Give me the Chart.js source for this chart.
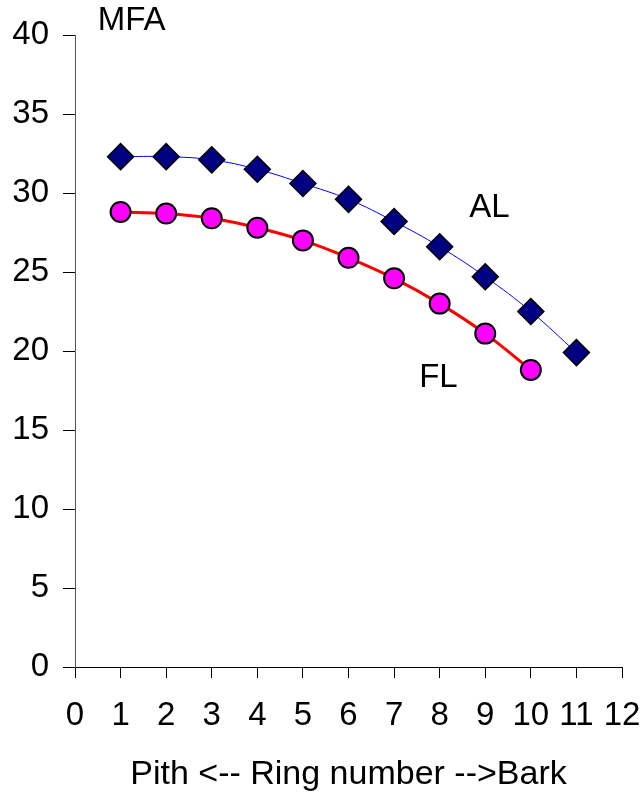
<!DOCTYPE html>
<html>
<head>
<meta charset="utf-8">
<script src="https://cdn.jsdelivr.net/npm/chart.js@4"></script>
<style>
  html, body { margin: 0; padding: 0; background: #fff; }
  #wrap { width: 641px; height: 795px; }
</style>
</head>
<body>
<div id="wrap"><canvas id="chart" width="641" height="795"></canvas></div>
<script>
// -----------------------------
// Data
// -----------------------------
const rings = [1, 2, 3, 4, 5, 6, 7, 8, 9, 10, 11];
const alValues = [32.3, 32.3, 32.1, 31.5, 30.6, 29.6, 28.2, 26.6, 24.7, 22.5, 19.9];
const flValues = [28.8, 28.7, 28.4, 27.8, 27.0, 25.9, 24.6, 23.0, 21.1, 18.8];
const xTicks = [0, 1, 2, 3, 4, 5, 6, 7, 8, 9, 10, 11, 12];
const yTicks = [0, 5, 10, 15, 20, 25, 30, 35, 40];

const FONT = "'Liberation Sans', Arial, sans-serif";

// text labels placed in data coordinates
const textLabels = [
    { text: "MFA", x: 0.5, y: 40.9 },
    { text: "AL", x: 8.65, y: 29.05 },
    { text: "FL", x: 7.55, y: 18.3 }
];

const labelPlugin = {
    id: "labels",
    afterDatasetsDraw(chart) {
        const ctx = chart.ctx;
        const xs = chart.scales.x, ys = chart.scales.y;
        ctx.save();
        ctx.font = "33px " + FONT;
        ctx.fillStyle = "#000";
        ctx.textAlign = "left";
        ctx.textBaseline = "middle";
        textLabels.forEach(l => {
            ctx.fillText(l.text, xs.getPixelForValue(l.x), ys.getPixelForValue(l.y));
        });
        ctx.restore();
    }
};

new Chart(document.getElementById("chart"), {
    type: "scatter",
    data: {
        datasets: [
            {
                label: "AL",
                data: rings.map((r, i) => ({ x: r, y: alValues[i] })),
                showLine: true,
                borderColor: "#0000FF",
                borderWidth: 1,
                tension: 0.4,
                pointStyle: "rectRot",
                pointRadius: 13,
                pointBackgroundColor: "#000080",
                pointBorderColor: "#000000",
                pointBorderWidth: 1.5
            },
            {
                label: "FL",
                data: rings.slice(0, flValues.length).map((r, i) => ({ x: r, y: flValues[i] })),
                showLine: true,
                borderColor: "#FF0000",
                borderWidth: 3,
                tension: 0.4,
                pointStyle: "circle",
                pointRadius: 10,
                pointBackgroundColor: "#FF00FF",
                pointBorderColor: "#000000",
                pointBorderWidth: 2
            }
        ]
    },
    options: {
        responsive: false,
        animation: false,
        clip: false,
        layout: { padding: { top: 35, right: 19, left: 0, bottom: 0 } },
        plugins: {
            legend: { display: false },
            tooltip: { enabled: false }
        },
        scales: {
            x: {
                type: "linear",
                min: 0,
                max: 12,
                afterBuildTicks: s => { s.ticks = xTicks.map(v => ({ value: v })); },
                grid: {
                    display: true,
                    drawOnChartArea: false,
                    drawTicks: true,
                    tickLength: 11,
                    color: "#000"
                },
                border: { color: "#000", width: 1 },
                ticks: {
                    color: "#000",
                    font: { family: FONT, size: 33 },
                    padding: 18,
                    maxRotation: 0,
                    autoSkip: false
                },
                title: {
                    display: true,
                    text: "Pith <-- Ring number -->Bark",
                    color: "#000",
                    font: { family: FONT, size: 34 },
                    padding: { top: 10, bottom: 0 }
                },
                afterFit: s => {
                    s.height = 128;
                    s.paddingLeft = 0;
                    s.paddingRight = 0;
                }
            },
            y: {
                type: "linear",
                min: 0,
                max: 40,
                afterBuildTicks: s => { s.ticks = yTicks.map(v => ({ value: v })); },
                grid: {
                    display: true,
                    drawOnChartArea: false,
                    drawTicks: true,
                    tickLength: 12,
                    color: "#000"
                },
                border: { color: "#555", width: 1 },
                ticks: {
                    color: "#000",
                    font: { family: FONT, size: 33 },
                    padding: 14
                },
                afterFit: s => {
                    s.width = 75;
                    s.paddingTop = 0;
                    s.paddingBottom = 0;
                }
            }
        }
    },
    plugins: [labelPlugin]
});
</script>
</body>
</html>
